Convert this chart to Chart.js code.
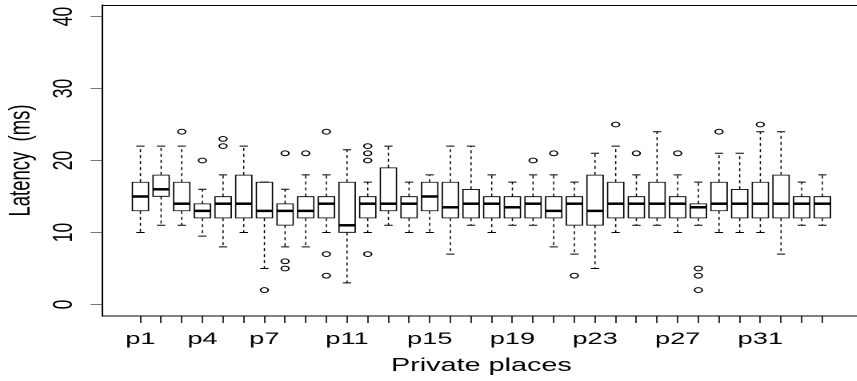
<!DOCTYPE html>
<html>
<head>
<meta charset="utf-8">
<script src="https://cdn.jsdelivr.net/npm/chart.js@4.4.1/dist/chart.umd.min.js"></script>
<style>
html,body{margin:0;padding:0;background:#fff;width:857px;height:381px;overflow:hidden}
#wrap{width:543px;height:381px;transform:scaleX(1.6);transform-origin:0 0}
canvas{display:block}
</style>
</head>
<body>
<div id="wrap"><canvas id="c" width="543" height="381"></canvas></div>
<script>
// ---- data ----
const places = ['p1','p2','p3','p4','p5','p6','p7','p8','p9','p10','p11','p12','p13','p14','p15','p16','p17',
  'p18','p19','p20','p21','p22','p23','p24','p25','p26','p27','p28','p29','p30','p31','p32','p33','p34'];
const shownLabels = ['p1','p4','p7','p11','p15','p19','p23','p27','p31'];
const whiskerLow = [10,11,11,9.5,8,10,5,8,8,10,3,10,11,10,10,7,11,10,11,11,8,7,5,10,11,11,10,11,10,10,10,7,11,11];
const q1 =        [13,15,13,12,12,12,12,11,12,12,10,12,13,12,13,12,12,12,12,12,12,11,11,12,12,12,12,12,13,12,12,12,12,12];
const median =    [15,16,14,13,14,14,13,13,13,14,11,14,14,14,15,13.5,14,14,13.5,14,13,14,13,14,14,14,14,13.5,14,14,14,14,14,14];
const q3 =        [17,18,17,14,15,18,17,14,15,15,17,15,19,15,17,17,16,15,15,15,15,15,18,17,15,17,15,14,17,16,17,18,15,15];
const whiskerHigh=[22,22,22,16,18,22,17,16,18,18,21.5,17,22,17,18,22,22,18,17,18,18,17,21,22,18,24,18,17,21,21,24,24,17,18];
const outliers = [[],[],[24],[20],[22,23],[],[2],[21,6,5],[21],[24,7,4],[],[20,21,22,7],[],[],[],[],[],
  [],[],[20],[21],[4],[],[25],[21],[],[21],[5,4,2],[24],[],[25],[],[],[]];
const yTicks = [0,10,20,30,40];
const yRange = [-1.6, 41.6];
const xRange = [-0.86, 35.86];

const boxData = places.map((p,i)=>({x:i+1, y:[q1[i], q3[i]]}));
const outlierData = [];
outliers.forEach((arr,i)=>arr.forEach(v=>outlierData.push({x:i+1, y:v})));

const FONT = "'Liberation Sans', Arial, Helvetica, sans-serif";

const boxParts = {
  id:'boxParts',
  afterDatasetsDraw(chart){
    const {ctx, scales:{x, y}} = chart;
    const half = x.getPixelForValue(1.4) - x.getPixelForValue(1);
    const staple = half/2;
    ctx.save();
    ctx.strokeStyle = '#000';
    ctx.lineCap = 'butt';
    places.forEach((p,i)=>{
      const cx = x.getPixelForValue(i+1);
      // whiskers
      ctx.lineWidth = 0.75;
      ctx.setLineDash([3,3]);
      ctx.beginPath();
      if (whiskerHigh[i] > q3[i]) {
        ctx.moveTo(cx, y.getPixelForValue(q3[i]));
        ctx.lineTo(cx, y.getPixelForValue(whiskerHigh[i]));
      }
      if (whiskerLow[i] < q1[i]) {
        ctx.moveTo(cx, y.getPixelForValue(q1[i]));
        ctx.lineTo(cx, y.getPixelForValue(whiskerLow[i]));
      }
      ctx.stroke();
      // staples
      ctx.setLineDash([]);
      ctx.lineWidth = 1;
      ctx.beginPath();
      [whiskerHigh[i], whiskerLow[i]].forEach(v=>{
        const py = y.getPixelForValue(v);
        ctx.moveTo(cx-staple, py); ctx.lineTo(cx+staple, py);
      });
      ctx.stroke();
      // median
      ctx.lineWidth = 2.5;
      ctx.beginPath();
      const my = y.getPixelForValue(median[i]);
      ctx.moveTo(cx-half, my); ctx.lineTo(cx+half, my);
      ctx.stroke();
    });
    // top frame line
    const a = chart.chartArea;
    ctx.lineWidth = 1;
    ctx.beginPath();
    ctx.moveTo(a.left, a.top+0.5); ctx.lineTo(a.right, a.top+0.5);
    ctx.stroke();
    ctx.restore();
  }
};

new Chart(document.getElementById('c'), {
  type:'bar',
  data:{
    datasets:[
      {type:'bar', data:boxData, backgroundColor:'#fff', borderColor:'#000', borderWidth:0.9,
       borderSkipped:false, barThickness:10.43, order:2},
      {type:'scatter', data:outlierData, pointStyle:'circle', pointRadius:2.4, pointBorderWidth:1,
       pointBackgroundColor:'rgba(0,0,0,0)', pointBorderColor:'#000', showLine:false, order:1}
    ]
  },
  options:{
    responsive:false, animation:false, devicePixelRatio:2,
    layout:{padding:{top:2, left:0, right:0, bottom:0}},
    plugins:{legend:{display:false}, tooltip:{enabled:false}},
    scales:{
      x:{
        type:'linear', min:xRange[0], max:xRange[1], offset:false,
        afterBuildTicks(s){ s.ticks = places.map((p,i)=>({value:i+1})); },
        afterFit(s){ s.height = 65; s.paddingLeft = 0; s.paddingRight = 0; },
        ticks:{autoSkip:false, maxRotation:0, minRotation:0, padding:5.9, color:'#000',
          font:{family:FONT, size:17},
          callback(v){ const l = places[v-1]; return shownLabels.includes(l) ? l : ''; }},
        grid:{offset:false, drawOnChartArea:false, drawTicks:true, tickLength:7, tickColor:'#333', tickWidth:1},
        border:{display:true, color:'#000', width:1},
        title:{display:true, text:'Private places', color:'#000', font:{family:FONT, size:18},
          padding:{top:0, bottom:4.4}}
      },
      y:{
        type:'linear', min:yRange[0], max:yRange[1],
        afterBuildTicks(s){ s.ticks = yTicks.map(v=>({value:v})); },
        afterFit(s){ s.width = 63.75; s.paddingTop = 0; s.paddingBottom = 0; },
        ticks:{minRotation:90, maxRotation:90, crossAlign:'center', padding:6.7, color:'#000',
          font:{family:FONT, size:17.5}},
        grid:{drawOnChartArea:false, drawTicks:true, tickLength:7, tickColor:'#777', tickWidth:1},
        border:{display:true, color:'#000', width:1},
        title:{display:true, text:'Latency  (ms)', color:'#000', font:{family:FONT, size:18.5},
          padding:{top:2.5, bottom:0}}
      }
    }
  },
  plugins:[boxParts]
});
</script>
</body>
</html>
